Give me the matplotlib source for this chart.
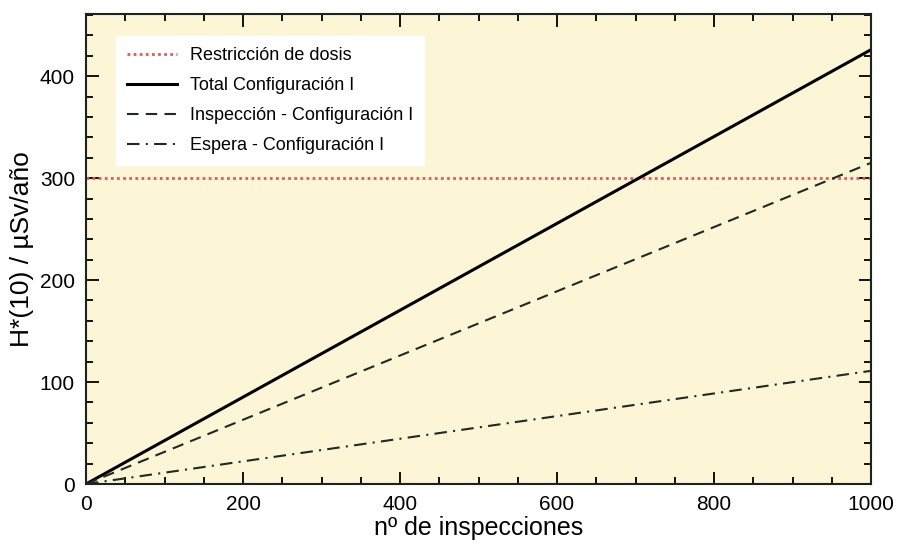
import matplotlib
matplotlib.use("Agg")
import matplotlib.pyplot as plt
from matplotlib.ticker import MultipleLocator

plt.rcParams['font.family'] = ['Liberation Sans', 'DejaVu Sans']

n_inspecciones = [0, 1000]
total = [0, 426]
inspeccion = [0, 315]
espera = [0, 111]
restriccion = 300

fig = plt.figure(figsize=(8.97, 5.52), dpi=100)
ax = fig.add_axes([86/897, 1-484/552, (871-86)/897, (484-14)/552])
ax.set_facecolor('#fcf6d6')

ax.axhline(restriccion, color='#e05a5a', linestyle=(0, (1, 1.2)), linewidth=2.0, label='Restricción de dosis')
ax.plot(n_inspecciones, total, color='black', linewidth=2.2, label='Total Configuración I')
ax.plot(n_inspecciones, inspeccion, color='#1e2a26', linestyle=(0, (5.5, 3.5)), linewidth=1.5, label='Inspección - Configuración I')
ax.plot(n_inspecciones, espera, color='#1e2a26', linestyle=(0, (6, 3, 1, 3)), linewidth=1.5, label='Espera - Configuración I')

ax.set_xlim(0, 1000)
ax.set_ylim(0, 461)
ax.xaxis.set_major_locator(MultipleLocator(200))
ax.xaxis.set_minor_locator(MultipleLocator(50))
ax.yaxis.set_major_locator(MultipleLocator(100))
ax.yaxis.set_minor_locator(MultipleLocator(20))
ax.tick_params(which='both', direction='in', top=True, right=True, labelsize=15, width=1.3, pad=8)
ax.tick_params(which='major', length=9)
ax.tick_params(which='minor', length=5)
for s in ax.spines.values():
    s.set_linewidth(1.5)
    s.set_color('#1a2420')

ax.set_xlabel('nº de inspecciones', fontsize=18, labelpad=1)
ax.set_ylabel('H*(10) / µSv/año', fontsize=19, labelpad=4)

leg = ax.legend(loc='upper left', bbox_to_anchor=(30/785, (484-36)/470), frameon=True, fancybox=False,
                fontsize=13, handlelength=2.8, handletextpad=0.7, labelspacing=0.72, borderpad=0.6,
                borderaxespad=0)
leg.get_frame().set_edgecolor('white')
leg.get_frame().set_facecolor('white')
leg.get_frame().set_alpha(1)

fig.savefig('out.png', dpi=100)
